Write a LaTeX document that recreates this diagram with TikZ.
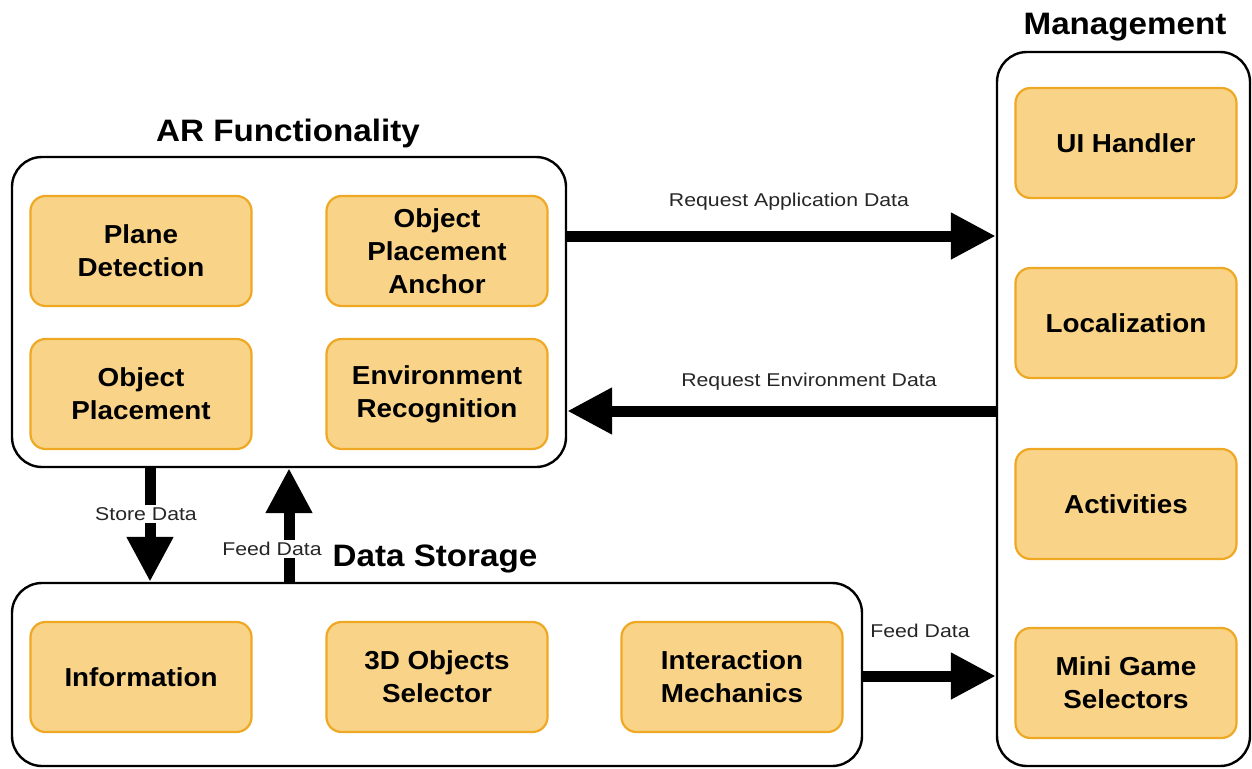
\documentclass[tikz,border=0pt]{standalone}
\usepackage{fontspec}
\setmainfont{Liberation Sans}[FakeStretch=1.07]
\newfontfamily\labfont{Liberation Sans}[FakeStretch=1.15]
\usetikzlibrary{arrows.meta}
\definecolor{boxfill}{HTML}{F9D488}
\definecolor{boxline}{HTML}{EFA823}
\tikzset{
  container/.style={draw=black, line width=2.4pt, rounded corners=30pt, fill=none},
  compbox/.style={draw=boxline, fill=boxfill, line width=2.2pt, rounded corners=15pt,
    minimum width=221pt, minimum height=110pt, align=center, inner sep=0pt,
    font=\fontsize{26}{33}\selectfont\bfseries},
  title/.style={font=\fontsize{31}{36}\selectfont\bfseries, inner sep=0pt},
  lbl/.style={font=\labfont\fontsize{18.5}{22}\selectfont, text=black!85, inner sep=0pt},
  lblbg/.style={lbl, fill=white, inner sep=2pt},
  bigarrow/.style={line width=11pt, -{Triangle[length=45pt,width=44pt]}},
}
\begin{document}
\begin{tikzpicture}[x=1pt,y=-1pt]
\useasboundingbox (0,0) rectangle (1252,768);
% containers
\node[container, minimum width=554pt, minimum height=310pt, inner sep=0pt] (AR) at (289,312) {};
\node[container, minimum width=253pt, minimum height=714pt, inner sep=0pt] (MG) at (1123.5,409) {};
\node[container, minimum width=850pt, minimum height=183pt, inner sep=0pt] (DS) at (437,674.5) {};
% titles
\node[title] (tAR) at (288,133) {AR Functionality};
\node[title] (tMG) at (1125,27) {Management};
\node[title] (tDS) at (435,559) {Data Storage};
% components
\node[compbox] (pd) at (141,251) {Plane\\Detection};
\node[compbox] (opa) at (437,251) {Object\\Placement\\Anchor};
\node[compbox] (op) at (141,394) {Object\\Placement};
\node[compbox] (er) at (437,394) {Environment\\Recognition};
\node[compbox] (info) at (141,677) {Information};
\node[compbox] (obj) at (437,677) {3D Objects\\Selector};
\node[compbox] (im) at (732,677) {Interaction\\Mechanics};
\node[compbox] (ui) at (1126,143) {UI Handler};
\node[compbox] (loc) at (1126,323) {Localization};
\node[compbox] (act) at (1126,504) {Activities};
\node[compbox] (mgs) at (1126,683) {Mini Game\\Selectors};
% arrows
\draw[bigarrow] (AR.east |- 0,236) -- (MG.west |- 0,236);
\node[lbl] (l1) at (789,202) {Request Application Data};
\draw[bigarrow] (MG.west |- 0,411) -- (AR.east |- 0,411);
\node[lbl] (l2) at (809,382) {Request Environment Data};
\draw[bigarrow] (AR.south -| 150,0) -- (DS.north -| 150,0);
\node[lblbg] (l3) at (146,514) {Store Data};
\draw[bigarrow] (DS.north -| 289,0) -- (AR.south -| 289,0);
\node[lblbg] (l4) at (272,549) {Feed Data};
\draw[bigarrow] (DS.east |- 0,676) -- (MG.west |- 0,676);
\node[lbl] (l5) at (920,631) {Feed Data};
\end{tikzpicture}
\end{document}
